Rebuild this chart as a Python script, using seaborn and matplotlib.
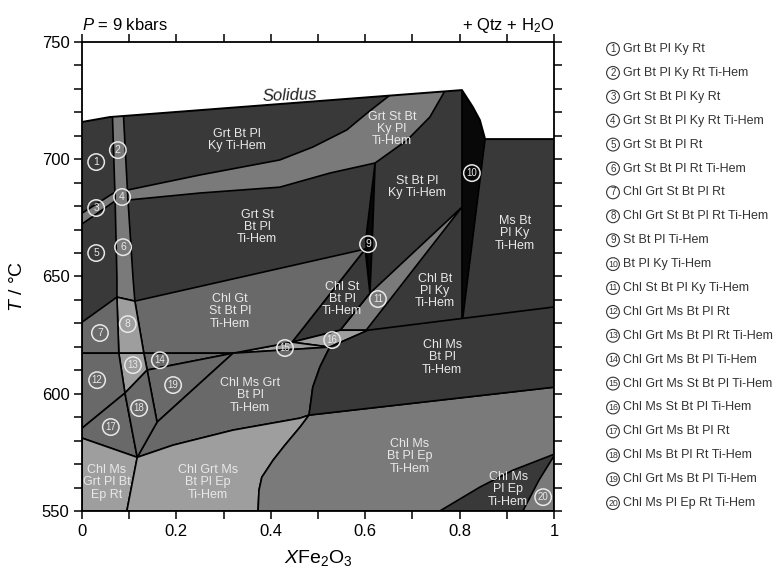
import numpy as np
import matplotlib
matplotlib.use("Agg")
import matplotlib.pyplot as plt
from matplotlib.patches import Polygon
from matplotlib.ticker import MultipleLocator, FuncFormatter
import seaborn as sns

# solidus curve (XFe2O3, T)
solidus_x = [0.0, 0.059, 0.805, 0.828, 0.843, 0.854, 1.0]
solidus_t = [715.9, 718.0, 729.5, 722.3, 716.7, 708.6, 708.6]

# field outlines as (XFe2O3, T / C)
rt_band = [(0.064, 722), (0.070, 683.9), (0.074, 649.7), (0.074, 641.2),
           (0.112, 639.5), (0.108, 649.7), (0.097, 683.9), (0.087, 722)]
band3 = [(0, 677.0), (0.070, 686.0), (0.070, 682.2), (0, 672.4)]
ky_band = [(0.097, 686.9), (0.250, 693.3), (0.419, 699.7), (0.489, 705.2), (0.561, 712.5),
           (0.604, 719.7), (0.642, 725.7), (0.665, 729.3), (0.770, 729.8), (0.765, 727.8),
           (0.737, 718.0), (0.689, 708.2), (0.621, 698.4), (0.525, 694.1), (0.419, 688.1),
           (0.250, 685.6), (0.097, 682.6)]
field10 = [(0.805, 729.5), (0.828, 722.3), (0.843, 716.7), (0.854, 708.6), (0.807, 632.7), (0.805, 632.2)]
field9 = [(0.621, 698.4), (0.615, 665.5), (0.610, 642.9), (0.601, 665.5)]
field11 = [(0.805, 679.6), (0.610, 642.9), (0.547, 627.1), (0.602, 627.1)]
chl_st = [(0.600, 661.7), (0.610, 642.9), (0.547, 627.1), (0.445, 622.0)]
field16 = [(0.445, 622.0), (0.547, 627.1), (0.606, 627.1), (0.525, 619.9)]
field15 = [(0.320, 617.3), (0.445, 622.0), (0.525, 619.9)]
chl_gt = [(0.112, 639.5), (0.600, 661.7), (0.445, 622.0), (0.320, 617.3), (0.131, 617.3)]
field14 = [(0.131, 617.3), (0.320, 617.3), (0.138, 610.1)]
field19 = [(0.138, 610.1), (0.320, 617.3), (0.159, 587.9)]
chl_ms_grt = [(0.320, 617.3), (0.525, 619.9), (0.504, 611.4), (0.489, 602.8), (0.481, 590.9),
              (0.462, 589.6), (0.320, 584.5), (0.193, 578.1), (0.117, 572.9), (0.159, 587.9)]
field8 = [(0.074, 641.2), (0.112, 639.5), (0.131, 617.3), (0.078, 617.3)]
field13 = [(0.078, 617.3), (0.131, 617.3), (0.138, 610.1), (0.091, 600.3)]
field7 = [(0, 630.5), (0.074, 641.2), (0.078, 617.3), (0, 617.3)]
field12 = [(0, 617.3), (0.078, 617.3), (0.091, 600.3), (0, 585.3)]
field17 = [(0, 585.3), (0.091, 600.3), (0.117, 572.9), (0, 581.1)]
field18 = [(0.091, 600.3), (0.138, 610.1), (0.159, 587.9), (0.117, 572.9)]
ep_rt = [(0, 581.1), (0.117, 572.9), (0.095, 550), (0, 550)]
ep_grt = [(0.117, 572.9), (0.193, 578.1), (0.320, 584.5), (0.462, 589.6), (0.481, 590.9),
          (0.462, 585.8), (0.430, 578.1), (0.405, 571.7), (0.381, 564.4), (0.375, 558.9),
          (0.373, 550), (0.095, 550)]
ep_ms = [(0.481, 590.9), (1.0, 602.8), (1.0, 550), (0.373, 550), (0.375, 558.9), (0.381, 564.4),
         (0.405, 571.7), (0.430, 578.1), (0.462, 585.8)]
ms_ti = [(0.525, 619.9), (0.606, 627.1), (1.0, 637.0), (1.0, 602.8), (0.481, 590.9),
         (0.489, 602.8), (0.504, 611.4)]
ep_pl = [(0.758, 550), (0.843, 560.2), (0.913, 567.4), (1.0, 574.2), (1.0, 573.5),
         (0.968, 563.1), (0.934, 550)]

# numbered small fields
num_x = [0.030, 0.076, 0.030, 0.085, 0.030, 0.087, 0.038, 0.097, 0.606, 0.826,
         0.627, 0.032, 0.108, 0.165, 0.430, 0.530, 0.061, 0.121, 0.193, 0.977]
num_t = [698.8, 703.9, 679.2, 683.9, 660.0, 662.5, 625.9, 629.7, 663.8, 694.1,
         640.4, 605.8, 612.2, 614.3, 619.5, 622.9, 585.8, 593.9, 603.7, 555.9]
num_names = ["Grt Bt Pl Ky Rt", "Grt Bt Pl Ky Rt Ti-Hem", "Grt St Bt Pl Ky Rt",
             "Grt St Bt Pl Ky Rt Ti-Hem", "Grt St Bt Pl Rt", "Grt St Bt Pl Rt Ti-Hem",
             "Chl Grt St Bt Pl Rt", "Chl Grt St Bt Pl Rt Ti-Hem", "St Bt Pl Ti-Hem",
             "Bt Pl Ky Ti-Hem", "Chl St Bt Pl Ky Ti-Hem", "Chl Grt Ms Bt Pl Rt",
             "Chl Grt Ms Bt Pl Rt Ti-Hem", "Chl Grt Ms Bt Pl Ti-Hem", "Chl Grt Ms St Bt Pl Ti-Hem",
             "Chl Ms St Bt Pl Ti-Hem", "Chl Grt Ms Bt Pl Rt", "Chl Ms Bt Pl Rt Ti-Hem",
             "Chl Grt Ms Bt Pl Ti-Hem", "Chl Ms Pl Ep Rt Ti-Hem"]

# big field labels
lab_text = ["Grt Bt Pl\nKy Ti-Hem", "Grt St Bt\nKy Pl\nTi-Hem", "Grt St\nBt Pl\nTi-Hem",
            "St Bt Pl\nKy Ti-Hem", "Ms Bt\nPl Ky\nTi-Hem", "Chl Gt\nSt Bt Pl\nTi-Hem",
            "Chl St\nBt Pl\nTi-Hem", "Chl Bt\nPl Ky\nTi-Hem", "Chl Ms\nBt Pl\nTi-Hem",
            "Chl Ms Grt\nBt Pl\nTi-Hem", "Chl Ms\nBt Pl Ep\nTi-Hem", "Chl Ms\nPl Ep\nTi-Hem",
            "Chl Ms\nGrt Pl Bt\nEp Rt", "Chl Grt Ms\nBt Pl Ep\nTi-Hem"]
lab_x = [0.328, 0.657, 0.371, 0.710, 0.917, 0.314, 0.551, 0.748, 0.763, 0.356, 0.695, 0.903, 0.053, 0.267]
lab_t = [708.2, 712.9, 671.1, 688.1, 668.5, 635.2, 640.4, 643.8, 615.6, 599.4, 573.4, 559.3, 562.3, 562.3]

sns.set_theme(style="ticks")
plt.rcParams['font.family'] = ['Liberation Sans', 'DejaVu Sans']
plt.rcParams['mathtext.fontset'] = 'custom'
plt.rcParams['mathtext.rm'] = 'Liberation Sans'
plt.rcParams['mathtext.it'] = 'Liberation Sans:italic'

DARK = "#393939"
BLACK = "#080808"
MID = "#7a7a7a"
MIDDARK = "#696969"
LIGHT = "#9e9e9e"
TXT = "#e8e8e8"

fig = plt.figure(figsize=(7.76, 5.71), dpi=100)
ax = fig.add_axes([82 / 776, 60 / 571, 472 / 776, 469 / 571])

# everything below the solidus
bg_verts = list(zip(solidus_x, solidus_t)) + [(1.0, 550), (0.0, 550)]
bg = Polygon(bg_verts, closed=True, fc=DARK, ec="none", zorder=1)
ax.add_patch(bg)

fields = [(rt_band, MID), (band3, MID), (ky_band, MID), (field10, BLACK), (field9, BLACK),
          (field11, MID), (chl_st, DARK), (field16, LIGHT), (field15, LIGHT), (chl_gt, MIDDARK),
          (field14, MIDDARK), (field19, MIDDARK), (chl_ms_grt, MIDDARK), (field8, LIGHT),
          (field13, LIGHT), (field7, MIDDARK), (field12, MIDDARK), (field17, MIDDARK),
          (field18, MIDDARK), (ep_rt, LIGHT), (ep_grt, LIGHT), (ep_ms, MID), (ms_ti, DARK),
          (ep_pl, DARK)]
for verts, col in fields:
    p = Polygon(verts, closed=True, fc=col, ec="black", lw=1.2, zorder=2, joinstyle="round")
    ax.add_patch(p)
    p.set_clip_path(bg)

ax.plot(solidus_x, solidus_t, color="black", lw=1.4, zorder=3)
ax.text(0.441, 727.0, "Solidus", style="italic", fontsize=12, color="#222222",
        ha="center", va="center", rotation=2, zorder=4)

for s, x, t in zip(lab_text, lab_x, lab_t):
    ax.text(x, t, s, fontsize=9, color=TXT, ha="center", va="center",
            linespacing=1.05, multialignment="center", zorder=4)

sns.scatterplot(x=num_x, y=num_t, s=140, facecolor="none", edgecolor=TXT,
                linewidth=1.1, ax=ax, zorder=5)
for i, (x, t) in enumerate(zip(num_x, num_t)):
    ax.text(x, t, str(i + 1), fontsize=7.5 if i < 9 else 7, color=TXT,
            ha="center", va="center", zorder=6)

ax.set_xlim(0, 1)
ax.set_ylim(550, 750)
ax.xaxis.set_major_locator(MultipleLocator(0.2))
ax.xaxis.set_minor_locator(MultipleLocator(0.1))
ax.yaxis.set_major_locator(MultipleLocator(50))
ax.yaxis.set_minor_locator(MultipleLocator(10))
ax.xaxis.set_major_formatter(FuncFormatter(lambda v, p: f"{v:g}"))
ax.tick_params(which="both", direction="out", length=6, width=1.1, color="black",
               top=True, right=True, labeltop=False, labelright=False)
ax.tick_params(which="major", labelsize=12, pad=3, labelcolor="black")
for sp in ax.spines.values():
    sp.set_linewidth(1.3)
    sp.set_color("black")
    sp.set_zorder(7)

ax.set_xlabel(r"$\mathit{X}$Fe$_2$O$_3$", fontsize=14, color="black")
ax.xaxis.set_label_coords(0.5, -0.079)
ax.set_ylabel(r"$\mathit{T}$ / °C", fontsize=14, color="black")
ax.yaxis.set_label_coords(-0.118, 0.48)
ax.text(0.0, 1.036, r"$\mathit{P}$ = 9 kbars", transform=ax.transAxes, fontsize=12,
        ha="left", va="center", color="black")
ax.text(1.0, 1.036, r"+ Qtz + H$_2$O", transform=ax.transAxes, fontsize=12,
        ha="right", va="center", color="black")

# legend of numbered fields
lax = fig.add_axes([570 / 776, 0, 206 / 776, 1])
lax.set_xlim(570, 776)
lax.set_ylim(571, 0)
lax.axis("off")
leg_y = [49 + i * 23.9 for i in range(len(num_names))]
sns.scatterplot(x=[613] * len(leg_y), y=leg_y, s=85, facecolor="none", edgecolor="#333333",
                linewidth=0.8, ax=lax)
for i, (name, y) in enumerate(zip(num_names, leg_y)):
    lax.text(613, y, str(i + 1), fontsize=7 if i < 9 else 6.3, ha="center", va="center",
             color="#333333")
    lax.text(623, y, name, fontsize=9, ha="left", va="center", color="#333333")

fig.savefig("out.png", dpi=100)
